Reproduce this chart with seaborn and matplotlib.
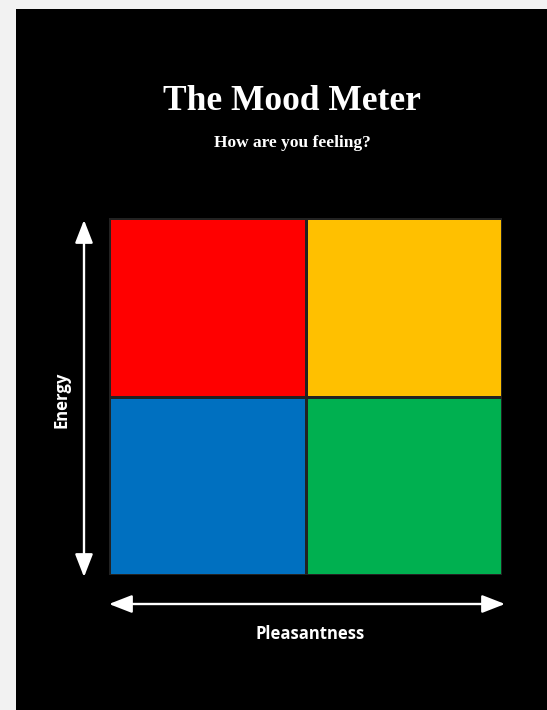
import matplotlib
matplotlib.use("Agg")
import matplotlib.pyplot as plt
from matplotlib.colors import ListedColormap
from matplotlib.patches import Rectangle, FancyArrowPatch
import numpy as np
import pandas as pd
import seaborn as sns

# Data
energy_levels = ["High", "Low"]
pleasantness_levels = ["Low", "High"]
quadrant_ids = [[0, 1], [2, 3]]
quadrant_colors = ["#FF0000", "#FFC000", "#0070C0", "#00B050"]
title = "The Mood Meter"
subtitle = "How are you feeling?"
x_label = "Pleasantness"
y_label = "Energy"

W, H = 547, 710
fig = plt.figure(figsize=(W / 100, H / 100), dpi=100, facecolor="#f2f2f2")

# black panel
fig.patches.append(Rectangle((16 / W, 0), 1, 1 - 9 / H, transform=fig.transFigure,
                             facecolor="black", edgecolor="none", zorder=-10))

df = pd.DataFrame(quadrant_ids, index=energy_levels, columns=pleasantness_levels)
ax = fig.add_axes([109 / W, (H - 575) / H, (502 - 109) / W, (575 - 218) / H])
ax.set_zorder(5)
sns.heatmap(df, ax=ax, cmap=ListedColormap(quadrant_colors), vmin=-0.5, vmax=3.5,
            cbar=False, linewidths=0.9, linecolor="#222222", square=False)
ax.set_xticks([]); ax.set_yticks([])
ax.set_xlabel(""); ax.set_ylabel("")
for s in ax.spines.values():
    s.set_visible(False)

def fx(px):
    return px / W

def fy(py):
    return 1 - py / H

arrowprops = dict(arrowstyle="<|-|>,head_length=1.0,head_width=0.39", color="white",
                  lw=1.7, shrinkA=0, shrinkB=0, mutation_scale=14, zorder=6)
# vertical arrow
fig.add_artist(FancyArrowPatch((fx(84), fy(577)), (fx(84), fy(220)),
               transform=fig.transFigure, **arrowprops))
# horizontal arrow
fig.add_artist(FancyArrowPatch((fx(109), fy(604)), (fx(505), fy(604)),
               transform=fig.transFigure, **arrowprops))

fig.text(fx(292), fy(102), title, color="white", fontsize=25.5, fontweight="bold",
         family="Liberation Serif", ha="center", va="center")
fig.text(fx(292), fy(143), subtitle, color="white", fontsize=12.5, fontweight="bold",
         family="Liberation Serif", ha="center", va="center")
fig.text(fx(310), fy(634), x_label, color="white", fontsize=12, fontweight="bold",
         family="Open Sans", ha="center", va="center")
fig.text(fx(61), fy(400), y_label, color="white", fontsize=12, fontweight="bold",
         family="Open Sans", ha="center", va="center", rotation=90)

fig.savefig("out.png", dpi=100, facecolor=fig.get_facecolor())
